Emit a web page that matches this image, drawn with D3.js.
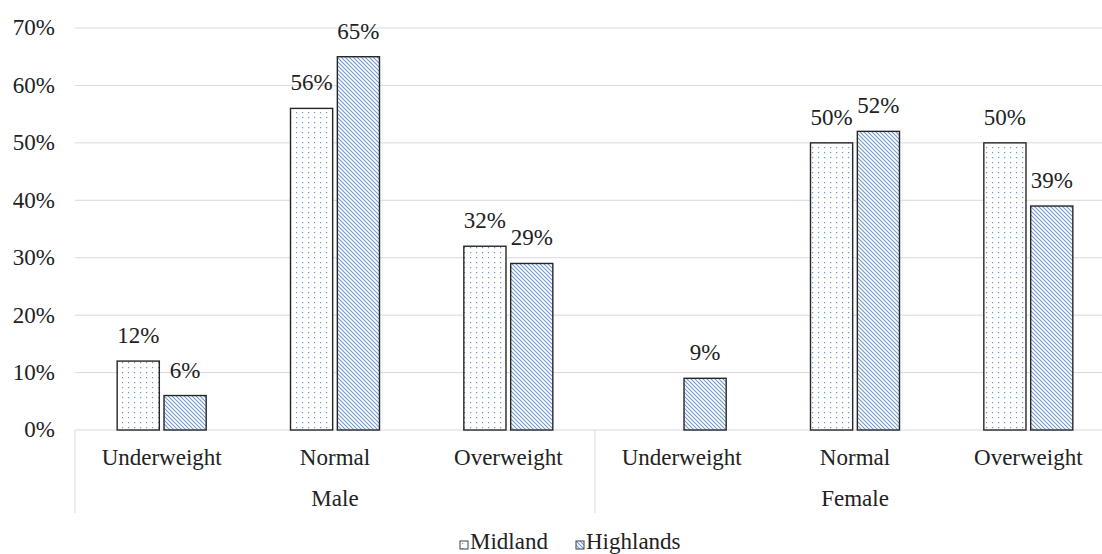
<!DOCTYPE html>
<html>
<head>
<meta charset="utf-8">
<script src="https://cdn.jsdelivr.net/npm/d3@7"></script>
<style>
  body { margin: 0; background: #fff; }
</style>
</head>
<body>
<div id="chart"></div>
<script>
// data
var groups = ["Male", "Female"];
var categories = ["Underweight", "Normal", "Overweight"];
var seriesNames = ["Midland", "Highlands"];
var midland = [12, 56, 32, null, 50, 50];
var highlands = [6, 65, 29, 9, 52, 39];
var yTicks = [0, 10, 20, 30, 40, 50, 60, 70];

var width = 1102, height = 554;
var plotLeft = 75, plotRight = 1115, plotTop = 28, plotBottom = 430;
var FONT = "Liberation Serif";
var FS = 23;

var svg = d3.select("#chart").append("svg")
    .attr("width", width)
    .attr("height", height);

// patterns
var defs = svg.append("defs");
var dots = defs.append("pattern")
    .attr("id", "dots")
    .attr("patternUnits", "userSpaceOnUse")
    .attr("width", 6).attr("height", 5);
dots.append("rect").attr("width", 6).attr("height", 5).attr("fill", "#fff");
dots.append("rect").attr("x", 2).attr("y", 2).attr("width", 1.2).attr("height", 1.2).attr("fill", "#6a96d6");

var stripes = defs.append("pattern")
    .attr("id", "stripes")
    .attr("patternUnits", "userSpaceOnUse")
    .attr("width", 4).attr("height", 4);
stripes.append("rect").attr("width", 4).attr("height", 4).attr("fill", "#fff");
stripes.append("path")
    .attr("d", "M-1,-1 L5,5 M-1,3 L1,5 M3,-1 L5,1")
    .attr("stroke", "#6e9ad8").attr("stroke-width", 1.1);

var fills = ["url(#dots)", "url(#stripes)"];

// scales
var slots = [];
groups.forEach(function(g){
    categories.forEach(function(c){ slots.push(g + "|" + c); });
});

var x = d3.scaleBand().domain(slots).range([plotLeft, plotRight]);
var xSub = d3.scaleBand().domain(seriesNames).range([0, 89]).paddingInner(0.1);
var y = d3.scaleLinear().domain([0, 70]).range([plotBottom, plotTop]);

function txt(sel){
    return sel.attr("font-family", FONT).style("font-family", FONT)
        .attr("font-size", FS).attr("fill", "#222");
}

// gridlines
svg.append("g").selectAll("line")
    .data(yTicks)
    .enter().append("line")
    .attr("x1", plotLeft).attr("x2", width)
    .attr("y1", function(d){ return y(d); })
    .attr("y2", function(d){ return y(d); })
    .attr("stroke", "#d9d9d9").attr("stroke-width", 1);

// y labels
txt(svg.append("g").selectAll("text")
    .data(yTicks)
    .enter().append("text"))
    .attr("x", 55)
    .attr("y", function(d){ return y(d); })
    .attr("dy", "0.32em")
    .attr("text-anchor", "end")
    .text(function(d){ return d + "%"; });

// bars
var series = [midland, highlands];
var barData = [];
series.forEach(function(vals, si){
    vals.forEach(function(v, i){
        if (v === null) return;
        barData.push({ slot: slots[i], series: seriesNames[si], value: v, si: si });
    });
});

var bandOffset = (x.bandwidth() - 89) / 2;

svg.append("g").selectAll("rect")
    .data(barData)
    .enter().append("rect")
    .attr("x", function(d){ return x(d.slot) + bandOffset + xSub(d.series); })
    .attr("y", function(d){ return y(d.value); })
    .attr("width", xSub.bandwidth())
    .attr("height", function(d){ return y(0) - y(d.value); })
    .attr("fill", function(d){ return fills[d.si]; })
    .attr("stroke", "#262626").attr("stroke-width", 1.4);

txt(svg.append("g").selectAll("text")
    .data(barData)
    .enter().append("text"))
    .attr("x", function(d){ return x(d.slot) + bandOffset + xSub(d.series) + xSub.bandwidth() / 2; })
    .attr("y", function(d){ return y(d.value) - 18; })
    .attr("text-anchor", "middle")
    .text(function(d){ return d.value + "%"; });

// category axis
var axisG = svg.append("g");
txt(axisG.selectAll("text.cat")
    .data(slots)
    .enter().append("text"))
    .attr("class", "cat")
    .attr("x", function(d){ return x(d) + x.bandwidth() / 2; })
    .attr("y", 465)
    .attr("text-anchor", "middle")
    .text(function(d){ return d.split("|")[1]; });

var groupW = x.bandwidth() * categories.length;
txt(axisG.selectAll("text.grp")
    .data(groups)
    .enter().append("text"))
    .attr("class", "grp")
    .attr("x", function(d, i){ return plotLeft + groupW * i + groupW / 2; })
    .attr("y", 506)
    .attr("text-anchor", "middle")
    .text(function(d){ return d; });

axisG.selectAll("line.sep")
    .data([0, 1])
    .enter().append("line")
    .attr("x1", function(d){ return plotLeft + groupW * d; })
    .attr("x2", function(d){ return plotLeft + groupW * d; })
    .attr("y1", plotBottom).attr("y2", 513)
    .attr("stroke", "#d9d9d9").attr("stroke-width", 1);

// legend
var legend = svg.append("g").attr("transform", "translate(460,541)");
var items = legend.selectAll("g")
    .data(seriesNames)
    .enter().append("g")
    .attr("transform", function(d, i){ return "translate(" + (i * 116) + ",0)"; });
items.append("rect")
    .attr("width", 8).attr("height", 8)
    .attr("fill", function(d, i){ return fills[i]; })
    .attr("stroke", "#404040").attr("stroke-width", 1);
txt(items.append("text"))
    .attr("x", 10).attr("y", 8)
    .text(function(d){ return d; });
</script>
</body>
</html>
